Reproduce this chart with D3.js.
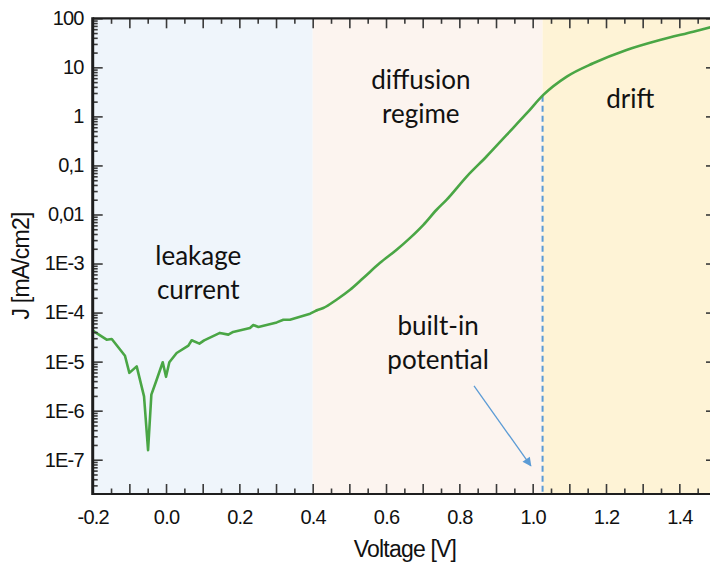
<!DOCTYPE html>
<html>
<head>
<meta charset="utf-8">
<script src="https://cdn.jsdelivr.net/npm/d3@7"></script>
<style>
  html, body { margin: 0; padding: 0; background: #fff; }
  svg { display: block; }
</style>
</head>
<body>
<svg id="chart" width="710" height="565"></svg>
<script>
// J–V characteristic of a diode on a log scale, with the three transport regimes shaded.
const voltage = [-0.200, -0.162, -0.148, -0.112, -0.100, -0.080, -0.060, -0.049, -0.040, -0.027,
                 -0.009, 0.000, 0.009, 0.029, 0.061, 0.070, 0.091, 0.104, 0.147, 0.170,
                 0.183, 0.229, 0.238, 0.252, 0.302, 0.320, 0.338, 0.393, 0.411, 0.429,
                 0.465, 0.502, 0.538, 0.583, 0.629, 0.665, 0.702, 0.738, 0.765, 0.820,
                 0.874, 0.929, 0.984, 1.029, 1.093, 1.165, 1.256, 1.347, 1.438, 1.500];
const currentDensity = [4.3e-5, 2.8e-5, 2.9e-5, 1.32e-5, 5.9e-6, 8.0e-6, 1.96e-6, 1.56e-7, 2.13e-6, 3.97e-6,
                        9.7e-6, 4.9e-6, 9.7e-6, 1.5e-5, 2.12e-5, 2.72e-5, 2.33e-5, 2.72e-5, 3.85e-5, 3.55e-5,
                        4.03e-5, 4.86e-5, 5.59e-5, 5.09e-5, 6.31e-5, 7.16e-5, 7.16e-5, 9.5e-5, 1.11e-4, 1.24e-4,
                        1.83e-4, 2.92e-4, 5.07e-4, 1.02e-3, 1.91e-3, 3.3e-3, 6.17e-3, 1.25e-2, 1.99e-2, 5.94e-2,
                        0.152, 0.42, 1.16, 2.74, 6.47, 12.1, 22.6, 36.1, 53.3, 70];

// Regime boundaries (V)
const regimeNames = ["leakage", "diffusion", "drift"];
const regimeStart = [-0.2, 0.4, 1.027];
const regimeEnd = [0.4, 1.027, 1.5];
const regimeColors = ["#eff5fb", "#fcf4ef", "#fef3d6"];
const builtInVoltage = 1.027;
// Above this voltage the measured curve is smooth
const smoothFrom = 0.411;

// Axis ticks
const xLabelTicks = [-0.2, 0.0, 0.2, 0.4, 0.6, 0.8, 1.0, 1.2, 1.4];
const yDecades = [1e-7, 1e-6, 1e-5, 1e-4, 1e-3, 1e-2, 1e-1, 1, 10, 100];
const yTickLabels = ["1E-7", "1E-6", "1E-5", "1E-4", "1E-3", "0,01", "0,1", "1", "10", "100"];

// Annotations: text lines, anchor (V, J) of first baseline
const noteLines = [["leakage", "current"], ["diffusion", "regime"], ["drift"], ["built-in", "potential"]];
const noteV = [0.088, 0.695, 1.266, 0.742];
const noteJ = [9.3e-4, 3.6, 1.48, 3.5e-5];
const arrowFrom = [0.84, 3.2e-6];
const arrowTo = [0.995, 7.5e-8];

const svg = d3.select("#chart");
const plot = { left: 92.7, right: 716, top: 18.3, bottom: 494 };

const x = d3.scaleLinear().domain([-0.2, 1.5]).range([plot.left, plot.right]);
const y = d3.scaleLog().domain([2e-8, 100]).range([plot.bottom, plot.top]);

const defs = svg.append("defs");
defs.append("clipPath").attr("id", "plotClip")
  .append("rect")
  .attr("x", plot.left).attr("y", plot.top)
  .attr("width", plot.right - plot.left).attr("height", plot.bottom - plot.top);

// Shaded regimes
svg.append("g").selectAll("rect")
  .data(regimeNames)
  .join("rect")
  .attr("x", (d, i) => x(regimeStart[i]))
  .attr("width", (d, i) => x(regimeEnd[i]) - x(regimeStart[i]))
  .attr("y", plot.top)
  .attr("height", plot.bottom - plot.top)
  .attr("fill", (d, i) => regimeColors[i]);

// Built-in potential marker: dashed from the curve down to the axis
const logJ = currentDensity.map(Math.log10);
const jAtBuiltIn = Math.pow(10, d3.scaleLinear().domain(voltage).range(logJ)(builtInVoltage));
svg.append("line")
  .attr("x1", x(builtInVoltage)).attr("x2", x(builtInVoltage))
  .attr("y1", y(jAtBuiltIn)).attr("y2", plot.bottom)
  .attr("stroke", "#5b9bd5").attr("stroke-width", 2)
  .attr("stroke-dasharray", "6,4");

// J–V curve: noisy leakage part drawn point to point, the rest smoothed
const points = voltage.map((v, i) => [v, currentDensity[i]]);
const noisy = points.filter(p => p[0] <= smoothFrom);
const smooth = points.filter(p => p[0] >= smoothFrom);
const curveGroup = svg.append("g")
  .attr("clip-path", "url(#plotClip)")
  .attr("fill", "none")
  .attr("stroke", "#4aa645")
  .attr("stroke-width", 2.6)
  .attr("stroke-linejoin", "round")
  .attr("stroke-linecap", "round");
curveGroup.append("path").datum(noisy)
  .attr("d", d3.line().x(d => x(d[0])).y(d => y(d[1])));
curveGroup.append("path").datum(smooth)
  .attr("d", d3.line().curve(d3.curveMonotoneX).x(d => x(d[0])).y(d => y(d[1])));

// Ticks
const xMajor = d3.range(-2, 16).map(k => +(k / 10).toFixed(1));
const xMinor = d3.range(-2, 15).map(k => +((k + 0.5) / 10).toFixed(2));
const yMinor = [];
for (let e = -8; e <= 1; e++) for (let m = 2; m <= 9; m++) {
  const v = m * Math.pow(10, e);
  if (v > 2e-8 && v < 100) yMinor.push(v);
}

function styleAxis(g) {
  g.select(".domain").remove();
  g.selectAll(".tick line").attr("stroke", "#3a3a3a").attr("stroke-width", 1.6);
  g.selectAll("text").attr("font-family", "'Liberation Sans', Arial, sans-serif")
    .attr("font-size", 20).attr("letter-spacing", -0.8).attr("fill", "#111");
}

const fmtX = d => xLabelTicks.some(t => Math.abs(t - d) < 1e-6) ? d.toFixed(1) : "";

svg.append("g").attr("transform", `translate(0,${plot.bottom})`)
  .call(d3.axisBottom(x).tickValues(xMajor).tickSize(-10).tickPadding(16).tickFormat(fmtX))
  .call(styleAxis);
svg.append("g").attr("transform", `translate(0,${plot.bottom})`)
  .call(d3.axisBottom(x).tickValues(xMinor).tickSize(-5.5).tickFormat(""))
  .call(styleAxis);
svg.append("g").attr("transform", `translate(0,${plot.top})`)
  .call(d3.axisTop(x).tickValues(xMajor).tickSize(-10).tickFormat(""))
  .call(styleAxis);
svg.append("g").attr("transform", `translate(0,${plot.top})`)
  .call(d3.axisTop(x).tickValues(xMinor).tickSize(-5.5).tickFormat(""))
  .call(styleAxis);

svg.append("g").attr("transform", `translate(${plot.left},0)`)
  .call(d3.axisLeft(y).tickValues(yDecades).tickSize(-10).tickPadding(9)
    .tickFormat((d, i) => yTickLabels[i]))
  .call(styleAxis);
svg.append("g").attr("transform", `translate(${plot.left},0)`)
  .call(d3.axisLeft(y).tickValues(yMinor).tickSize(-5).tickFormat(""))
  .call(styleAxis);
svg.append("g").attr("transform", `translate(${plot.right},0)`)
  .call(d3.axisRight(y).tickValues(yDecades).tickSize(-10).tickFormat(""))
  .call(styleAxis);
svg.append("g").attr("transform", `translate(${plot.right},0)`)
  .call(d3.axisRight(y).tickValues(yMinor).tickSize(-5).tickFormat(""))
  .call(styleAxis);

// Frame
const frame = svg.append("g").attr("stroke", "#1e1e1e").attr("fill", "none");
frame.append("line").attr("x1", plot.left).attr("x2", plot.left)
  .attr("y1", plot.top - 1).attr("y2", plot.bottom + 1).attr("stroke-width", 3);
frame.append("line").attr("x1", plot.left).attr("x2", plot.right)
  .attr("y1", plot.top).attr("y2", plot.top).attr("stroke-width", 2.2);
frame.append("line").attr("x1", plot.left).attr("x2", plot.right)
  .attr("y1", plot.bottom).attr("y2", plot.bottom).attr("stroke-width", 2.2);
frame.append("line").attr("x1", plot.right).attr("x2", plot.right)
  .attr("y1", plot.top).attr("y2", plot.bottom).attr("stroke-width", 2.2);

// Axis titles
svg.append("text")
  .attr("x", 405).attr("y", 557)
  .attr("text-anchor", "middle")
  .attr("font-family", "'Liberation Sans', Arial, sans-serif")
  .attr("font-size", 23).attr("fill", "#111")
  .attr("letter-spacing", -0.8)
  .text("Voltage [V]");
svg.append("text")
  .attr("transform", "translate(29,266) rotate(-90)")
  .attr("text-anchor", "middle")
  .attr("font-family", "'Liberation Sans', Arial, sans-serif")
  .attr("font-size", 23).attr("fill", "#111")
  .attr("letter-spacing", -0.8)
  .text("J [mA/cm2]");

// Regime annotations
const notes = svg.append("g")
  .attr("font-family", "Lato, 'Open Sans', sans-serif")
  .attr("font-size", 26).attr("fill", "#111")
  .attr("text-anchor", "middle");
noteLines.forEach((lines, i) => {
  const t = notes.append("text").attr("x", x(noteV[i])).attr("y", y(noteJ[i]));
  lines.forEach((line, k) => {
    t.append("tspan").attr("x", x(noteV[i])).attr("dy", k === 0 ? 0 : 34).text(line);
  });
});

// Arrow pointing at the built-in potential
defs.append("marker")
  .attr("id", "arrowHead")
  .attr("viewBox", "0 0 10 10").attr("refX", 9).attr("refY", 5)
  .attr("markerWidth", 11).attr("markerHeight", 9)
  .attr("markerUnits", "userSpaceOnUse")
  .attr("orient", "auto")
  .append("path").attr("d", "M0,0 L10,5 L0,10 Z").attr("fill", "#5b9bd5");
svg.append("line")
  .attr("x1", x(arrowFrom[0])).attr("y1", y(arrowFrom[1]))
  .attr("x2", x(arrowTo[0])).attr("y2", y(arrowTo[1]))
  .attr("stroke", "#5b9bd5").attr("stroke-width", 1.3)
  .attr("marker-end", "url(#arrowHead)");
</script>
</body>
</html>
